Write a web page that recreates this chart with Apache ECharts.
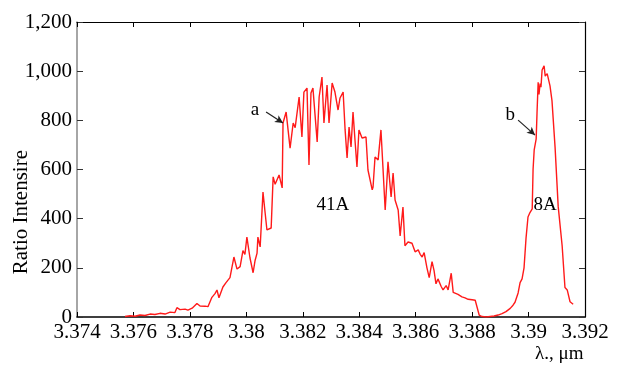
<!DOCTYPE html>
<html>
<head>
<meta charset="utf-8">
<script src="https://cdn.jsdelivr.net/npm/echarts@6/dist/echarts.min.js"></script>
<style>html,body{margin:0;padding:0;background:#fff}#c{width:623px;height:365px}</style>
</head>
<body>
<div id="c"></div>
<script>
// wavelength (µm)
var wavelength = [
3.37570,3.37588,3.37606,3.37623,3.37641,3.37659,3.37676,3.37694,3.37712,3.37730,
3.37747,3.37754,3.37765,3.37783,3.37793,3.37808,3.37825,3.37836,3.37854,3.37864,
3.37878,3.37889,3.37896,3.37903,3.37917,3.37928,3.37942,3.37956,3.37967,3.37978,
3.37988,3.37995,3.38002,3.38013,3.38024,3.38031,3.38038,3.38041,3.38049,3.38059,
3.38066,3.38073,3.38088,3.38095,3.38102,3.38109,3.38116,3.38127,3.38130,3.38141,
3.38148,3.38155,3.38166,3.38173,3.38180,3.38187,3.38197,3.38204,3.38215,3.38222,
3.38229,3.38236,3.38251,3.38258,3.38268,3.38275,3.38286,3.38293,3.38304,3.38314,
3.38325,3.38332,3.38343,3.38350,3.38357,3.38364,3.38371,3.38378,3.38385,3.38392,
3.38399,3.38410,3.38424,3.38431,3.38438,3.38446,3.38449,3.38456,3.38467,3.38477,
3.38484,3.38492,3.38502,3.38513,3.38520,3.38527,3.38538,3.38545,3.38555,3.38562,
3.38573,3.38587,3.38598,3.38609,3.38616,3.38623,3.38630,3.38640,3.38648,3.38658,
3.38665,3.38672,3.38679,3.38690,3.38697,3.38708,3.38715,3.38726,3.38733,3.38740,
3.38750,3.38764,3.38775,3.38786,3.38800,3.38811,3.38818,3.38825,3.38835,3.38850,
3.38864,3.38878,3.38892,3.38906,3.38920,3.38935,3.38945,3.38952,3.38963,3.38970,
3.38977,3.38984,3.38991,3.38998,3.39005,3.39013,3.39016,3.39020,3.39027,3.39030,
3.39034,3.39037,3.39041,3.39044,3.39048,3.39055,3.39059,3.39066,3.39076,3.39083,
3.39094,3.39105,3.39119,3.39129,3.39137,3.39147,3.39158
];
// ratio intensity
var intensity = [
2,5,3,8,6,12,10,15,12,20,
18,38,30,32,28,36,55,45,44,42,
80,95,110,78,122,140,160,244,195,205,
270,255,325,240,180,230,260,325,285,508,
430,354,362,570,540,537,578,525,789,834,
760,687,789,770,769,895,732,915,931,618,
911,931,712,895,976,789,944,789,952,915,
842,891,915,761,647,773,692,834,720,610,
761,728,732,598,606,517,529,651,639,761,
610,435,631,488,586,476,435,330,447,290,
305,300,265,273,255,244,262,200,160,225,
190,135,155,125,110,128,110,178,100,105,
92,82,78,72,70,68,70,8,2,0,
2,4,8,14,22,35,48,60,98,140,
155,200,320,407,425,440,600,680,725,830,
955,905,950,935,1005,1022,980,990,940,880,
690,450,290,120,110,62,52
];
var xTicks = ['3.374','3.376','3.378','3.38','3.382','3.384','3.386','3.388','3.39','3.392'];
var yTicks = [0,200,400,600,800,1000,1200];
var notes = [
  {text:'a', x:3.38031, y:842},
  {text:'b', x:3.38935, y:822},
  {text:'41A', x:3.38307, y:456},
  {text:'8A', x:3.39059, y:456}
];
var arrows = [
  [[3.38070, 834],[3.38130, 789]],
  [[3.38963, 801],[3.39023, 740]]
];
var xName = 'λ., μm';
var yName = 'Ratio Intensire';

var FONT = 'Liberation Serif';
var data = wavelength.map(function(w,i){return [w,intensity[i]];});
var chart = echarts.init(document.getElementById('c'));
var fmtX = function(v){ var s = parseFloat(v.toFixed(3)).toString(); return xTicks.indexOf(s)>=0 ? s : s; };
chart.setOption({
  animation:false,
  backgroundColor:'#fff',
  grid:{left:77,right:38,top:22,bottom:48},
  xAxis:[{
    type:'value',min:3.374,max:3.392,interval:0.002,
    axisLine:{lineStyle:{color:'#000',width:1.5}},
    axisTick:{inside:true,length:5,lineStyle:{color:'#000'}},
    splitLine:{show:false},
    axisLabel:{formatter:fmtX,color:'#000',fontFamily:FONT,fontSize:21,margin:5,
      showMinLabel:true,showMaxLabel:true}
  },{
    type:'value',position:'top',min:3.374,max:3.392,interval:0.002,
    axisLine:{onZero:false,lineStyle:{color:'#000',width:1.2}},
    axisTick:{inside:true,length:5,lineStyle:{color:'#000'}},
    axisLabel:{show:false},splitLine:{show:false}
  }],
  yAxis:[{
    type:'value',min:0,max:1200,interval:200,
    axisLine:{show:true,lineStyle:{color:'#888',width:1.5}},
    axisTick:{show:true,inside:true,length:6,lineStyle:{color:'#333'}},
    splitLine:{show:false},
    axisLabel:{color:'#000',fontFamily:FONT,fontSize:21,margin:5}
  },{
    type:'value',position:'right',min:0,max:1200,interval:200,
    axisLine:{show:true,onZero:false,lineStyle:{color:'#000',width:1.2}},
    axisTick:{show:true,inside:true,length:6,lineStyle:{color:'#333'}},
    axisLabel:{show:false},splitLine:{show:false}
  }],
  series:[{
    type:'line',data:data,showSymbol:false,symbol:'none',
    lineStyle:{color:'#ff1a1a',width:1.4},
    markLine:{
      silent:true,symbol:['none','arrow'],symbolSize:[6,8],
      lineStyle:{color:'#222',width:1.2,type:'solid'},
      label:{show:false},
      data:arrows.map(function(a){return [{coord:a[0]},{coord:a[1]}];})
    },
    markPoint:{
      silent:true,symbol:'circle',symbolSize:1,itemStyle:{color:'rgba(0,0,0,0)'},
      label:{show:true,position:'inside',color:'#000',fontFamily:FONT,fontSize:19,
        formatter:function(p){return p.name;}},
      data:notes.map(function(n){return {name:n.text,coord:[n.x,n.y]};})
    }
  }],
  graphic:[
    {type:'text',left:22-11,top:150,rotation:Math.PI/2,
     style:{text:yName,font:'21px "Liberation Serif"',fill:'#000',textAlign:'center',textVerticalAlign:'middle'}},
    {type:'text',left:535,top:345,
     style:{text:xName,font:'19px "Liberation Serif"',fill:'#000'}}
  ]
});
</script>
</body>
</html>
